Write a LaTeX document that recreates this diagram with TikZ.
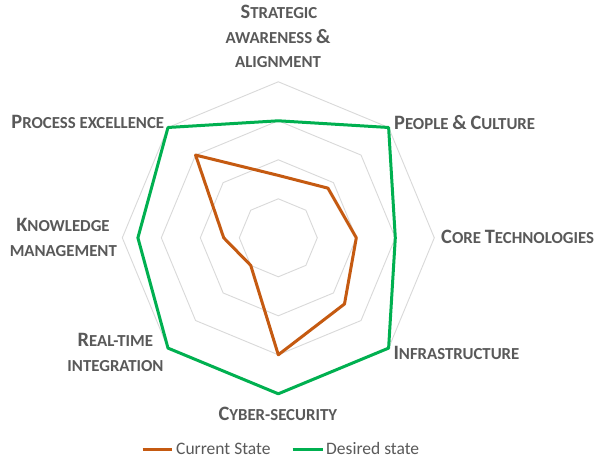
\documentclass[tikz,border=0pt]{standalone}
\usepackage{fontspec}
\setmainfont{Carlito}
\usetikzlibrary{calc}
\definecolor{gridc}{HTML}{D9D9D9}
\definecolor{curc}{HTML}{C55A11}
\definecolor{desc}{HTML}{00B050}
\definecolor{txtc}{HTML}{595959}
\newcommand\lbg{\fontsize{20.4bp}{22bp}\selectfont}
\newcommand\lsm{\fontsize{16.8bp}{22bp}\selectfont}
\newcommand\sctxt[2]{{\lbg #1}{\lsm #2}}
\tikzset{
  gridline/.style={draw=gridc, line width=0.9bp},
  serie/.style={line width=3bp, line join=round},
  axlabel/.style={font=\bfseries, text=txtc, inner sep=0pt},
  legtext/.style={font=\fontsize{17.5bp}{20bp}\selectfont, text=txtc, inner sep=0pt, anchor=base west},
}
\begin{document}
\begin{tikzpicture}[x=1bp,y=-1bp]
\useasboundingbox (0,0) rectangle (594,459);
\fill[white] (0,0) rectangle (594,459);
\coordinate (c) at (278.3,237.8);
% grid rings
\foreach \r in {39,78,117,156}{
  \draw[gridline] ($(c)+(-90:\r)$) \foreach \i in {1,...,7}{ -- ($(c)+({-90+45*\i}:\r)$)} -- cycle;
}
% series coordinates (0..100 -> 0..156)
\foreach \v [count=\i from 0] in {40,45,50,60,75,25,35,75}{
  \coordinate (cur\i) at ($(c)+({-90+45*\i}:{1.56*\v})$);
}
\foreach \v [count=\i from 0] in {75,100,75,100,100,100,90,100}{
  \coordinate (des\i) at ($(c)+({-90+45*\i}:{1.56*\v})$);
}
\draw[serie, draw=curc] (cur0) -- (cur1) -- (cur2) -- (cur3) -- (cur4) -- (cur5) -- (cur6) -- (cur7) -- cycle;
\draw[serie, draw=desc] (des0) -- (des1) -- (des2) -- (des3) -- (des4) -- (des5) -- (des6) -- (des7) -- cycle;
% labels
\node[axlabel, anchor=base] (l0a) at (279,18.3) {\sctxt{S}{TRATEGIC}};
\node[axlabel, anchor=base] (l0b) at (278,43.3) {\sctxt{}{AWARENESS }\sctxt{\&}{}};
\node[axlabel, anchor=base] (l0c) at (278,67.7) {\sctxt{}{ALIGNMENT}};
\node[axlabel, anchor=base west] (l1) at (394,129.3) {\sctxt{P}{EOPLE }\sctxt{\&}{ }\sctxt{C}{ULTURE}};
\node[axlabel, anchor=base west] (l2) at (441,243.7) {\sctxt{C}{ORE }\sctxt{T}{ECHNOLOGIES}};
\node[axlabel, anchor=base west] (l3) at (393.3,359.3) {\sctxt{I}{NFRASTRUCTURE}};
\node[axlabel, anchor=base] (l4) at (277.8,420.3) {\sctxt{C}{YBER-SECURITY}};
\node[axlabel, anchor=base] (l5a) at (115.3,346.7) {\sctxt{R}{EAL-TIME}};
\node[axlabel, anchor=base] (l5b) at (115.5,371.7) {\sctxt{}{INTEGRATION}};
\node[axlabel, anchor=base] (l6a) at (63,231.7) {\sctxt{K}{NOWLEDGE}};
\node[axlabel, anchor=base] (l6b) at (63.3,256.7) {\sctxt{}{MANAGEMENT}};
\node[axlabel, anchor=base east] (l7) at (164.3,128.7) {\sctxt{P}{ROCESS EXCELLENCE}};
% legend
\coordinate (lc1) at (142.7,449);
\coordinate (lc2) at (171.7,449);
\coordinate (ld1) at (292.7,449);
\coordinate (ld2) at (323.3,449);
\draw[line width=3bp, draw=curc] (lc1) -- (lc2);
\draw[line width=3bp, draw=desc] (ld1) -- (ld2);
\node[legtext] (lt1) at (176,454.5) {Current State};
\node[legtext] (lt2) at (326,454.5) {Desired state};
\end{tikzpicture}
\end{document}
